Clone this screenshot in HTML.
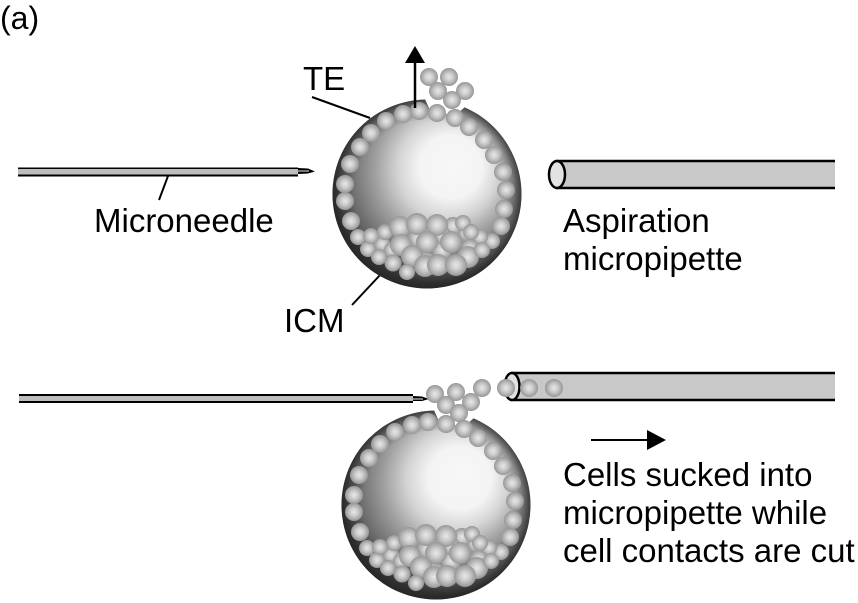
<!DOCTYPE html>
<html><head><meta charset="utf-8"><style>
html,body{margin:0;padding:0;background:#fff}
svg{display:block}
text{font-family:"Liberation Sans",sans-serif;font-size:33px;fill:#000}
</style></head><body>
<svg width="858" height="603" viewBox="0 0 858 603" xmlns="http://www.w3.org/2000/svg">
<defs>
<radialGradient id="s" gradientUnits="userSpaceOnUse" cx="440" cy="172" r="112" fx="455" fy="165">
<stop offset="0" stop-color="#f7f7f7"/><stop offset=".28" stop-color="#f4f4f4"/><stop offset=".45" stop-color="#d4d4d4"/><stop offset=".63" stop-color="#a0a0a0"/><stop offset=".85" stop-color="#686868"/><stop offset="1" stop-color="#383838"/>
</radialGradient>
<radialGradient id="e" gradientUnits="userSpaceOnUse" cx="427" cy="194" r="94.500">
<stop offset=".78" stop-color="#222" stop-opacity="0"/><stop offset=".92" stop-color="#222" stop-opacity=".35"/><stop offset="1" stop-color="#222" stop-opacity=".75"/>
</radialGradient>
<radialGradient id="b"><stop offset="0" stop-color="#e8e8e8"/><stop offset=".45" stop-color="#cbcbcb"/><stop offset="1" stop-color="#969696"/></radialGradient>
<g id="ball">
<circle cx="427" cy="194" r="94.500" fill="url(#s)"/>
<circle cx="427" cy="194" r="94.500" fill="url(#e)"/>
</g>
<g id="ring" fill="url(#b)">
<circle cx="437" cy="113" r="9"/><circle cx="455" cy="118" r="9"/><circle cx="469" cy="127" r="9"/><circle cx="484" cy="140" r="9"/><circle cx="494" cy="155" r="9"/><circle cx="503" cy="172" r="9"/><circle cx="506" cy="190" r="9"/><circle cx="504" cy="209" r="9"/><circle cx="501" cy="226" r="9"/>
<circle cx="419" cy="111" r="9"/><circle cx="403" cy="114" r="9"/><circle cx="386" cy="121" r="9"/><circle cx="371" cy="133" r="9"/><circle cx="360" cy="147" r="9"/><circle cx="350" cy="164" r="9"/><circle cx="345" cy="184" r="9"/><circle cx="345" cy="201" r="9"/><circle cx="351" cy="221" r="9"/>
<circle cx="492" cy="241" r="8"/><circle cx="358" cy="237" r="8"/>
<circle cx="368" cy="249" r="8"/><circle cx="382" cy="244" r="8"/><circle cx="385" cy="232" r="8"/><circle cx="392" cy="250" r="8"/>
<circle cx="480" cy="237" r="8"/><circle cx="466" cy="233" r="8"/><circle cx="453" cy="226" r="9"/><circle cx="470" cy="248" r="9"/><circle cx="442" cy="250" r="10"/><circle cx="418" cy="238" r="10"/>
<circle cx="425" cy="262" r="11"/><circle cx="442" cy="235" r="9"/>
<circle cx="371" cy="236" r="8"/><circle cx="379" cy="257" r="8"/>
<circle cx="400" cy="227" r="11"/><circle cx="417" cy="224" r="11"/><circle cx="437" cy="225" r="11"/>
<circle cx="463" cy="223" r="8"/><circle cx="471" cy="232" r="8"/>
<circle cx="401" cy="245" r="11"/><circle cx="412" cy="256" r="11"/><circle cx="427" cy="242" r="11"/><circle cx="451" cy="242" r="11"/>
<circle cx="468" cy="257" r="11"/><circle cx="482" cy="250" r="8"/>
<circle cx="393" cy="263" r="8.500"/><circle cx="407" cy="272" r="8"/>
<circle cx="425" cy="266" r="11"/><circle cx="438" cy="265" r="11"/><circle cx="456" cy="265" r="11"/>
</g>
</defs>

<text x="0" y="29" style="font-size:32px">(a)</text>
<text x="303" y="90">TE</text>
<text x="94" y="232">Microneedle</text>
<text x="563" y="232">Aspiration</text>
<text x="563" y="270">micropipette</text>
<text x="284" y="332">ICM</text>
<text x="563" y="486">Cells sucked into</text>
<text x="563" y="524">micropipette while</text>
<text x="563" y="562">cell contacts are cut</text>

<!-- top needle -->
<path d="M18 167.500H298V168L308 168.500L315 171.500L308 173.500L298 174V176.500H18Z" fill="#000"/>
<rect x="18" y="169" width="280" height="5.500" fill="#bdbdbd"/>
<rect x="298" y="170" width="11" height="2" fill="#777"/>
<!-- top pipette -->
<path d="M835 161H557V188H835" fill="#c8c8c8" stroke="#000" stroke-width="2.500"/>
<ellipse cx="557" cy="174.500" rx="8" ry="13.500" fill="#e2e2e2" stroke="#000" stroke-width="2.500"/>

<line x1="312" y1="97" x2="370" y2="118" stroke="#000" stroke-width="2"/>
<line x1="168" y1="176" x2="159" y2="200" stroke="#000" stroke-width="2"/>
<line x1="381" y1="274" x2="352" y2="305" stroke="#000" stroke-width="2"/>

<use href="#ball"/>
<path d="M424 97L430 110L447 114L458 113L466 106L470 90L440 85Z" fill="#fff"/>
<use href="#ring"/>
<g fill="url(#b)">
<circle cx="429" cy="77" r="9"/><circle cx="449" cy="77" r="9"/><circle cx="438" cy="91" r="9"/><circle cx="465" cy="91" r="9"/><circle cx="452" cy="100" r="9"/>
</g>
<line x1="415" y1="108" x2="415" y2="60" stroke="#000" stroke-width="2.500"/>
<path d="M415 46L425 63H405Z" fill="#000"/>

<!-- bottom sphere -->
<g transform="translate(9 311)">
<use href="#ball"/>
<path d="M424 97L430 110L447 114L458 113L466 106L470 85L440 85Z" fill="#fff"/>
<use href="#ring"/>
</g>

<!-- bottom needle -->
<path d="M19 394H413V396L422 396.500L429 399L422 401L413 401V403H19Z" fill="#000"/>
<rect x="19" y="396" width="394" height="5" fill="#bdbdbd"/>
<rect x="413" y="398" width="10" height="2" fill="#777"/>
<!-- bottom pipette -->
<path d="M835 373H512V400H835" fill="#c8c8c8" stroke="#000" stroke-width="2.500"/>
<ellipse cx="512" cy="386.500" rx="7.500" ry="13.500" fill="#e2e2e2" stroke="#000" stroke-width="2.500"/>
<g fill="url(#b)">
<circle cx="529" cy="388" r="9"/><circle cx="554" cy="388" r="9"/><circle cx="506" cy="388" r="9"/><circle cx="482" cy="388" r="9"/>
<circle cx="435" cy="394" r="9"/><circle cx="456" cy="392" r="9"/><circle cx="471" cy="402" r="9"/><circle cx="446" cy="405" r="9"/><circle cx="459" cy="413" r="9"/>
</g>
<line x1="591" y1="440" x2="650" y2="440" stroke="#000" stroke-width="2"/>
<path d="M666 440L647 430V450Z" fill="#000"/>
</svg>
</body></html>
